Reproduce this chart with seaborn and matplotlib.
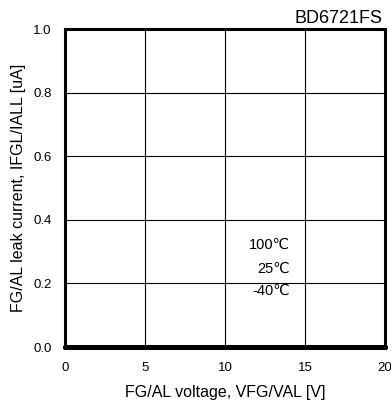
import matplotlib
matplotlib.use("Agg")
import matplotlib.pyplot as plt
import seaborn as sns
import pandas as pd

# Leak current vs. FG/AL pin voltage for three ambient temperatures
voltage = [0, 5, 10, 15, 20]
leak_100c = [0.0, 0.0, 0.0, 0.0, 0.0]
leak_25c = [0.0, 0.0, 0.0, 0.0, 0.0]
leak_m40c = [0.0, 0.0, 0.0, 0.0, 0.0]
temp_labels = ["100\u2103", "25\u2103", "-40\u2103"]
x_ticks = [0, 5, 10, 15, 20]
y_ticks = [0.0, 0.2, 0.4, 0.6, 0.8, 1.0]

df = pd.concat([
    pd.DataFrame({"V": voltage, "I": leak_100c, "T": temp_labels[0]}),
    pd.DataFrame({"V": voltage, "I": leak_25c, "T": temp_labels[1]}),
    pd.DataFrame({"V": voltage, "I": leak_m40c, "T": temp_labels[2]}),
])

sns.set_theme(style="white")
plt.rcParams["font.family"] = ["Liberation Sans", "DejaVu Sans"]

fig = plt.figure(figsize=(3.91, 4.07), dpi=100)
ax = fig.add_axes([65 / 391, 1 - 347 / 407, 320 / 391, 318 / 407])

sns.lineplot(data=df, x="V", y="I", units="T", estimator=None,
             color="black", linewidth=3.6, ax=ax, legend=False, clip_on=False)

ax.set_xlim(0, 20)
ax.set_ylim(0, 1.0)
ax.set_xticks(x_ticks)
ax.set_yticks(y_ticks)
ax.set_xticklabels([str(t) for t in x_ticks])
ax.set_yticklabels([f"{t:.1f}" for t in y_ticks])
ax.tick_params(length=0, labelsize=9.5, colors="black")
ax.tick_params(axis="x", pad=10.5)
ax.tick_params(axis="y", pad=9.5)
ax.grid(True, color="black", linewidth=0.8)
for s in ax.spines.values():
    s.set_color("black")
    s.set_linewidth(2.2)

ax.set_xlabel("FG/AL voltage, VFG/VAL [V]", fontsize=11.5, color="black", labelpad=8)
ax.set_ylabel("FG/AL leak current, IFGL/IALL [uA]", fontsize=11.5, color="black", labelpad=5.5)

label_y = [0.321, 0.247, 0.176]
for txt, yv in zip(temp_labels, label_y):
    ax.text(14.06, yv, txt, ha="right", va="center", fontsize=10.5, color="black")

fig.text(382 / 391, 1 - 23 / 407, "BD6721FS", ha="right", va="baseline", fontsize=13, color="black")

fig.savefig("out.png", dpi=100)
